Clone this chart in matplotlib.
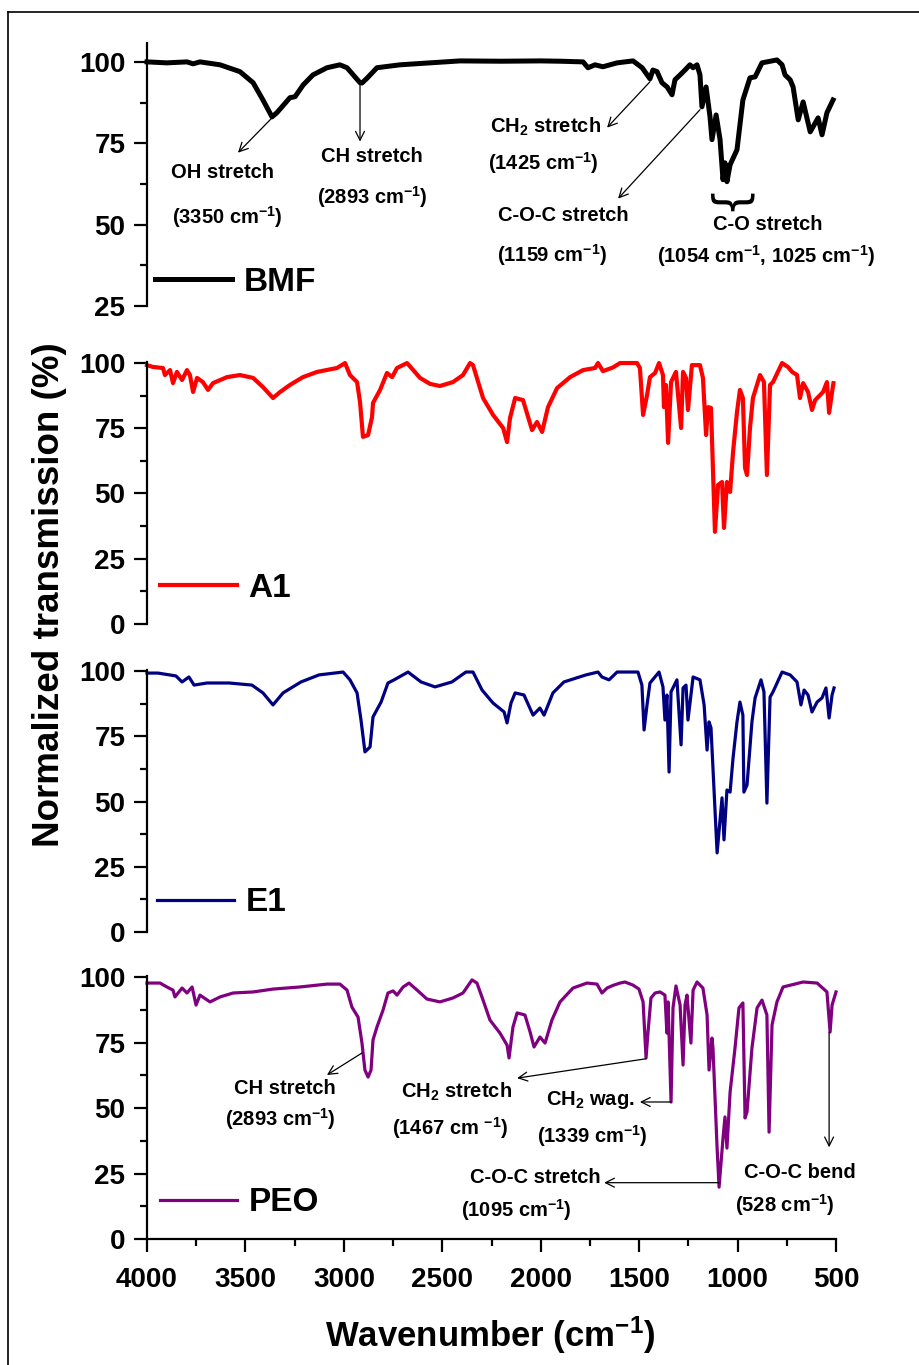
import matplotlib
matplotlib.use('Agg')
import matplotlib.pyplot as plt
from matplotlib.lines import Line2D
from matplotlib.ticker import MultipleLocator

plt.rcParams['font.family'] = ['Liberation Sans', 'DejaVu Sans']
plt.rcParams['font.weight'] = 'bold'
plt.rcParams['mathtext.fontset'] = 'custom'
plt.rcParams['mathtext.rm'] = 'Liberation Sans:bold'
plt.rcParams['mathtext.it'] = 'Liberation Sans:bold'
plt.rcParams['mathtext.bf'] = 'Liberation Sans:bold'
plt.rcParams['mathtext.default'] = 'rm'

# FTIR spectra, wavenumber (cm-1) vs normalized transmission (%)
wn_bmf = [4000, 3900, 3797, 3766, 3731, 3629, 3528, 3461, 3411, 3365, 3340, 3274, 3248,
          3207, 3157, 3086, 3020, 2984, 2918, 2908, 2882, 2832, 2715, 2410, 2200, 2000,
          1900, 1785, 1760, 1724, 1684, 1612, 1531, 1485, 1445, 1430, 1409, 1384, 1358,
          1333, 1318, 1292, 1267, 1242, 1226, 1206, 1191, 1181, 1160, 1140, 1130, 1109,
          1089, 1074, 1064, 1054, 1038, 1003, 973, 937, 911, 876, 800, 774, 759, 733,
          718, 692, 667, 631, 591, 571, 546, 515]
t_bmf = [100, 99.7, 100, 99.4, 100, 99.1, 97, 93.6, 88.3, 83.1, 84.4, 89, 89.3,
         92.9, 96, 98.2, 99.1, 98.2, 93.6, 93.5, 95, 98.2, 99.1, 100.3, 100.2, 100.3,
         100.2, 100, 98.2, 99.1, 98.5, 99.7, 100.3, 98.2, 94.8, 97.5, 97, 93.6, 92.3,
         89.9, 94.5, 96, 97.5, 99.1, 98.2, 99.1, 96, 86.2, 92.3, 83.1, 76.1, 83.7,
         76.1, 63.8, 69, 63.2, 68.4, 73, 88.3, 95.1, 95.4, 99.7, 100.6, 99.1, 96, 94.5,
         92.3, 82.2, 87.7, 78.5, 82.8, 77.6, 84.4, 88.3]

wn_a1 = [4000, 3970, 3919, 3909, 3883, 3868, 3848, 3822, 3797, 3782, 3766, 3746, 3716,
         3690, 3665, 3594, 3528, 3461, 3411, 3360, 3324, 3274, 3208, 3136, 3035, 2994,
         2969, 2933, 2918, 2903, 2877, 2857, 2852, 2816, 2781, 2755, 2730, 2679, 2613,
         2562, 2512, 2446, 2395, 2359, 2344, 2293, 2242, 2191, 2171, 2156, 2130, 2090,
         2044, 2019, 1993, 1963, 1917, 1851, 1785, 1724, 1709, 1684, 1633, 1597, 1511,
         1496, 1480, 1460, 1445, 1419, 1399, 1379, 1374, 1364, 1353, 1338, 1313, 1287,
         1277, 1262, 1252, 1232, 1191, 1176, 1160, 1150, 1135, 1115, 1099, 1079, 1069,
         1054, 1038, 1023, 1003, 988, 973, 962, 952, 937, 922, 886, 866, 851, 835, 820,
         774, 744, 723, 698, 683, 667, 642, 622, 606, 581, 566, 546, 535, 520, 513]
t_a1 = [99.2, 98.5, 98.1, 95.4, 97.3, 92.3, 96.6, 93.5, 97.3, 95.4, 88.9, 94.3, 92.7,
        89.7, 92.3, 94.6, 95.4, 94.3, 90.8, 86.6, 88.9, 91.6, 94.6, 96.6, 98.1, 100,
        95.4, 92.7, 85.1, 71.7, 72.4, 79.3, 84.7, 89.7, 96.2, 94.6, 98.1, 100, 94.3,
        92, 91.2, 92.7, 95.4, 100, 99.2, 86.6, 80.1, 75.1, 69.7, 78.9, 86.6, 85.8,
        74.3, 77.4, 73.6, 83.1, 90.4, 94.6, 97.3, 98.1, 100, 96.9, 98.3, 100, 100,
        98.1, 80.1, 87.7, 94.6, 96.2, 100, 95.4, 83.1, 91.6, 69.4, 92.7, 96.6, 75.1,
        96.6, 94.3, 82, 99.2, 99.2, 94.3, 72.4, 83.1, 82.8, 35.3, 53.3, 54.4, 36.8,
        54.4, 50.6, 65.9, 81.2, 89.7, 86.6, 59.8, 57.1, 75.1, 86.6, 95.4, 92.7, 57.1, 91.6, 92.7,
        100, 98.5, 96.6, 95.4, 86.6, 92.3, 88.9, 82, 85.8, 87.7, 88.9, 92.7, 80.9, 88.9, 92.3]

wn_e1 = [4000, 3944, 3853, 3822, 3787, 3761, 3695, 3583, 3467, 3411, 3360, 3309, 3218,
         3126, 3004, 2969, 2933, 2913, 2893, 2867, 2852, 2811, 2776, 2745, 2674, 2608,
         2537, 2451, 2380, 2344, 2298, 2242, 2186, 2171, 2151, 2130, 2085, 2039, 2004,
         1983, 1938, 1882, 1770, 1709, 1689, 1653, 1612, 1506, 1486, 1475, 1460, 1445,
         1399, 1379, 1369, 1359, 1348, 1338, 1308, 1287, 1277, 1262, 1252, 1226, 1191,
         1170, 1155, 1145, 1135, 1104, 1079, 1069, 1054, 1038, 1023, 1003, 988, 973, 968,
         952, 927, 911, 881, 866, 851, 835, 820, 774, 733, 698, 678, 662, 642, 622, 596,
         571, 551, 535, 520, 510]
t_e1 = [99.2, 99.2, 98.1, 95.8, 97.7, 94.6, 95.4, 95.4, 94.6, 91.6, 87, 91.6, 95.8,
        98.5, 99.6, 96.6, 91.6, 81.2, 69, 70.9, 82.4, 88.1, 95.4, 96.6, 99.6, 95.8,
        93.9, 95.8, 99.6, 99.6, 92.7, 87.7, 84.3, 80.1, 87.7, 91.6, 90.8, 83.1, 85.8,
        83.1, 91.6, 95.8, 98.5, 99.6, 97.7, 96.6, 99.6, 99.6, 94.6, 77.4, 87, 95.4,
        99.6, 93.9, 81.2, 90.8, 61.3, 92, 96.6, 71.7, 93.5, 94.6, 81.2, 97.7, 96.6,
        87, 69.7, 80.5, 78.2, 30.3, 51.4, 35.3, 54.4, 53.6, 66.7, 80.5, 88.1, 83.1, 53.6,
        56.3, 80.5, 89.7, 96.6, 92, 49.4, 90, 92, 99.6, 98.5, 95.8, 87, 92.7, 90.8, 84.3, 88.1,
        89.7, 93.5, 82, 90.8, 93.5]

wn_peo = [4000, 3934, 3899, 3868, 3858, 3822, 3797, 3771, 3751, 3731, 3680, 3629, 3563,
          3461, 3360, 3223, 3086, 3020, 2984, 2959, 2928, 2908, 2893, 2877, 2862, 2852,
          2832, 2801, 2776, 2750, 2730, 2699, 2669, 2628, 2578, 2512, 2446, 2395, 2349,
          2324, 2293, 2258, 2207, 2171, 2161, 2141, 2120, 2080, 2054, 2034, 2004, 1978,
          1943, 1902, 1836, 1765, 1714, 1689, 1663, 1633, 1597, 1572, 1531, 1501, 1480,
          1465, 1455, 1440, 1419, 1394, 1369, 1359, 1353, 1338, 1328, 1313, 1292, 1277,
          1267, 1257, 1237, 1226, 1206, 1176, 1155, 1145, 1130, 1125, 1104, 1094, 1074,
          1064, 1054, 1038, 1013, 993, 973, 962, 952, 927, 901, 876, 851, 840, 825, 800,
          769, 667, 596, 546, 530, 520, 500]
t_peo = [97.7, 97.7, 96.2, 95, 92.4, 95.8, 93.9, 96.2, 89.3, 93.1, 90.5, 92.4, 93.9,
         94.3, 95.4, 96.2, 97.3, 97.3, 95, 88.5, 84.7, 74.8, 64.5, 61.8, 64.5, 76,
         80.9, 87.4, 93.9, 94.7, 93.1, 96.2, 97.7, 95, 91.6, 90.5, 92, 93.9, 98.9,
         97.7, 91.2, 83.6, 78.6, 74, 69.1, 80.9, 86.3, 85.5, 79, 73.3, 77.1, 74.8,
         83.6, 90.5, 95.8, 97.7, 97.3, 93.9, 95.8, 96.8, 97.7, 98.1, 96.9, 95.4, 90.5,
         69.1, 79, 92, 93.9, 94.3, 93.1, 78.6, 90.5, 52.3, 88.2, 96.6, 89.3, 66.4,
         89.3, 93.1, 74.8, 95, 98.1, 95.8, 85.5, 64.5, 76.7, 72.9, 34.7, 19.8, 38.5,
         46.6, 34.7, 56.1, 72.9, 88.2, 90.1, 46.2, 48.5, 72.9, 88.2, 91.2, 85.5, 40.8, 81.7, 90.5,
         96.2, 98.1, 97.7, 94.3, 79, 89.3, 94.3]

names = ['BMF', 'A1', 'E1', 'PEO']
colors = ['black', '#ff0000', '#000080', '#800080']
widths = [3.6, 3.0, 2.3, 2.3]
spectra = [(wn_bmf, t_bmf), (wn_a1, t_a1), (wn_e1, t_e1), (wn_peo, t_peo)]

fig = plt.figure(figsize=(9.2, 13.65), dpi=100)
left, width = 0.1598, 0.7489
boxes = [(0.7758, 0.9685), (0.5429, 0.7348), (0.3172, 0.5092), (0.0923, 0.2850)]
ylims = [(25, 105.8), (0, 100.4), (0, 100.4), (0, 100.4)]
leg_pos = [(0.012, 0.091), (0.019, 0.137), (0.015, 0.111), (0.019, 0.137)]

axes = []
for i in range(4):
    b, t = boxes[i]
    ax = fig.add_axes([left, b, width, t - b])
    wn, tr = spectra[i]
    ax.plot(wn, tr, color=colors[i], lw=widths[i], label=names[i], clip_on=False)
    ax.set_xlim(4000, 500)
    ax.set_ylim(*ylims[i])
    for s in ['top', 'right']:
        ax.spines[s].set_visible(False)
    ax.spines['left'].set_linewidth(1.6)
    ax.spines['bottom'].set_linewidth(1.6)
    ax.set_yticks([v for v in [0, 25, 50, 75, 100] if v >= ylims[i][0]])
    ax.yaxis.set_minor_locator(MultipleLocator(12.5))
    ax.tick_params(axis='y', which='major', direction='out', length=9.5, width=1.6,
                   labelsize=20, pad=6)
    ax.tick_params(axis='y', which='minor', direction='out', length=5, width=1.6)
    if i < 3:
        ax.spines['bottom'].set_visible(False)
        ax.tick_params(axis='x', which='both', bottom=False, labelbottom=False)
    ax.legend(loc='center left', bbox_to_anchor=leg_pos[i], frameon=False,
              borderaxespad=0, borderpad=0, handlelength=2.3, handletextpad=0.35,
              prop={'size': 24, 'weight': 'bold'})
    axes.append(ax)

ax4 = axes[3]
ax4.set_xticks(range(4000, 499, -500))
ax4.xaxis.set_minor_locator(MultipleLocator(250))
ax4.tick_params(axis='x', which='major', direction='out', length=9.5, width=1.6,
                labelsize=20, pad=11)
ax4.tick_params(axis='x', which='minor', direction='out', length=5, width=1.6)

arrow = dict(arrowstyle='->', color='black', lw=0.9, mutation_scale=16,
             shrinkA=0, shrinkB=0)
fs = 14.5

# BMF band assignments
ax1 = axes[0]
ax1.annotate('', xy=(3538, 72.1), xytext=(3365, 82.8), arrowprops=arrow)
ax1.annotate('', xy=(2918, 75.5), xytext=(2918, 93.5), arrowprops=arrow)
ax1.annotate('', xy=(1663, 79.8), xytext=(1445, 93.9), arrowprops=arrow)
ax1.annotate('', xy=(1607, 58), xytext=(1191, 85.3), arrowprops=arrow)
ax1.text(3619, 66, 'OH stretch', fontsize=fs, ha='center', va='center')
ax1.text(3594, 52.2, '(3350 cm$^{-1}$)', fontsize=fs, ha='center', va='center')
ax1.text(2857, 70.9, 'CH stretch', fontsize=fs, ha='center', va='center')
ax1.text(2857, 58.6, '(2893 cm$^{-1}$)', fontsize=fs, ha='center', va='center')
ax1.text(1978, 80, 'CH$_2$ stretch', fontsize=fs, ha='center', va='center')
ax1.text(1988, 69, '(1425 cm$^{-1}$)', fontsize=fs, ha='center', va='center')
ax1.text(1887, 52.8, 'C-O-C stretch', fontsize=fs, ha='center', va='center')
ax1.text(1943, 40.8, '(1159 cm$^{-1}$)', fontsize=fs, ha='center', va='center')
ax1.text(1049, 58.6, '{', fontsize=33, rotation=90, ha='center', va='center',
         family='DejaVu Sans', fontweight='normal')
ax1.text(845, 50, 'C-O stretch', fontsize=fs, ha='center', va='center')
ax1.text(855, 40.5, '(1054 cm$^{-1}$, 1025 cm$^{-1}$)', fontsize=fs, ha='center',
         va='center')

# PEO band assignments
ax4.annotate('', xy=(3086, 62.6), xytext=(2908, 71), arrowprops=arrow)
ax4.annotate('', xy=(2120, 61.4), xytext=(1465, 68.8), arrowprops=arrow)
ax4.annotate('', xy=(1496, 52.3), xytext=(1338, 52.3), arrowprops=arrow)
ax4.annotate('', xy=(1678, 21.5), xytext=(1094, 21.5), arrowprops=arrow)
ax4.annotate('', xy=(535, 35), xytext=(535, 79), arrowprops=arrow)
ax4.text(3299, 57.6, 'CH stretch', fontsize=fs, ha='center', va='center')
ax4.text(3324, 45.8, '(2893 cm$^{-1}$)', fontsize=fs, ha='center', va='center')
ax4.text(2430, 56.1, 'CH$_2$ stretch', fontsize=fs, ha='center', va='center')
ax4.text(2461, 42.4, '(1467 cm $^{-1}$)', fontsize=fs, ha='center', va='center')
ax4.text(1750, 53, 'CH$_2$ wag.', fontsize=fs, ha='center', va='center')
ax4.text(1739, 39.3, '(1339 cm$^{-1}$)', fontsize=fs, ha='center', va='center')
ax4.text(2029, 23.3, 'C-O-C stretch', fontsize=fs, ha='center', va='center')
ax4.text(2125, 11, '(1095 cm$^{-1}$)', fontsize=fs, ha='center', va='center')
ax4.text(683, 25.2, 'C-O-C bend', fontsize=fs, ha='center', va='center')
ax4.text(759, 13, '(528 cm$^{-1}$)', fontsize=fs, ha='center', va='center')

fig.text(50 / 920, 1 - 595 / 1365, 'Normalized transmission (%)', fontsize=26.5,
         rotation=90, ha='center', va='center')
fig.text(490 / 920, 1 - 1335 / 1365, 'Wavenumber (cm$^{-1}$)', fontsize=25,
         ha='center', va='center')

# outer frame
fig.add_artist(Line2D([8 / 920, 1], [1 - 12 / 1365] * 2, transform=fig.transFigure,
                      color='black', lw=1.2))
fig.add_artist(Line2D([8 / 920] * 2, [0, 1 - 12 / 1365], transform=fig.transFigure,
                      color='black', lw=1.2))

fig.savefig('out.png', dpi=100)
